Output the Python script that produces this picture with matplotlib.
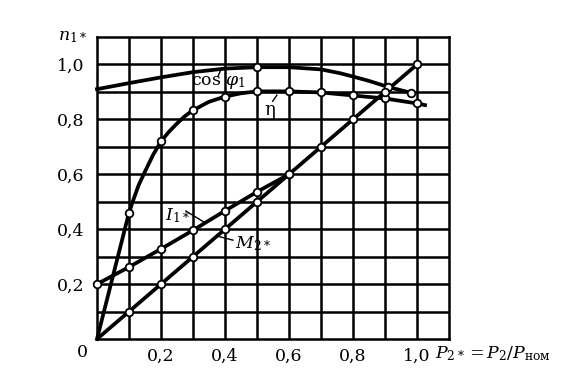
import matplotlib
matplotlib.use('Agg')
import matplotlib.pyplot as plt
import numpy as np

plt.rcParams['font.family'] = 'DejaVu Serif'
plt.rcParams['mathtext.fontset'] = 'dejavuserif'

# P2* on x
# cos phi1
cos_x = [0, 0.1, 0.2, 0.3, 0.4, 0.5, 0.6, 0.7, 0.76, 0.8, 0.85, 0.91, 0.98]
cos_y = [0.91, 0.932, 0.953, 0.972, 0.985, 0.99, 0.99, 0.982, 0.968, 0.956, 0.94, 0.918, 0.897]
cos_mx = [0.5, 0.91, 0.98]
cos_my = [0.99, 0.918, 0.897]

# efficiency
eta_x = [0, 0.05, 0.1, 0.11, 0.13, 0.15, 0.175, 0.2, 0.225, 0.25, 0.275, 0.3,
         0.35, 0.4, 0.45, 0.5, 0.6, 0.7, 0.8, 0.9, 1.0, 1.025]
eta_y = [0, 0.23, 0.46, 0.495, 0.56, 0.61, 0.67, 0.72, 0.755, 0.785, 0.812, 0.833,
         0.864, 0.883, 0.895, 0.902, 0.902, 0.898, 0.887, 0.876, 0.858, 0.852]
eta_mx = [0.1, 0.2, 0.3, 0.4, 0.5, 0.6, 0.7, 0.8, 0.9, 1.0]
eta_my = [0.46, 0.72, 0.833, 0.883, 0.902, 0.902, 0.898, 0.887, 0.876, 0.858]

# stator current
i1_x = [0, 0.1, 0.2, 0.3, 0.4, 0.5, 0.6]
i1_y = [0.2, 0.262, 0.328, 0.396, 0.467, 0.536, 0.6]

# torque
m2_x = [0, 0.1, 0.2, 0.3, 0.4, 0.5, 0.6, 0.7, 0.8, 0.9, 1.0]
m2_y = [0, 0.1, 0.2, 0.3, 0.4, 0.5, 0.6, 0.7, 0.8, 0.9, 1.0]

xlabels = ['0,2', '0,4', '0,6', '0,8', '1,0']
ylabels = ['0,2', '0,4', '0,6', '0,8', '1,0']

fig = plt.figure(figsize=(5.76, 3.77), dpi=100)
ax = fig.add_axes([97/576, 38/377, 352/576, 302/377])
ax.set_xlim(0, 1.1)
ax.set_ylim(0, 1.1)

ax.set_xticks([0.2, 0.4, 0.6, 0.8, 1.0])
ax.set_xticklabels(xlabels)
ax.set_yticks([0.2, 0.4, 0.6, 0.8, 1.0])
ax.set_yticklabels(ylabels)
ax.set_xticks(np.arange(0.1, 1.1, 0.1), minor=True)
ax.set_yticks(np.arange(0.1, 1.1, 0.1), minor=True)
ax.tick_params(which='both', length=0, labelsize=12.5)
ax.tick_params(axis='x', pad=6)
ax.tick_params(axis='y', pad=9)
ax.grid(which='both', color='black', lw=1.8)
ax.set_axisbelow(True)
for s in ax.spines.values():
    s.set_linewidth(1.8)

lw = 2.7
mk = dict(marker='o', ms=5.5, mfc='white', mec='black', mew=1.3, ls='none', zorder=5)
ax.plot(cos_x, cos_y, color='black', lw=lw, clip_on=False)
ax.plot(cos_mx, cos_my, **mk)
ax.plot(eta_x, eta_y, color='black', lw=lw, clip_on=False)
ax.plot(eta_mx, eta_my, **mk)
ax.plot(i1_x, i1_y, color='black', lw=lw)
ax.plot(i1_x, i1_y, clip_on=False, **mk)
ax.plot(m2_x, m2_y, color='black', lw=lw)
ax.plot(m2_x[1:], m2_y[1:], clip_on=False, **mk)

# curve labels with leaders
ax.text(0.378, 0.936, r'$\mathrm{cos}\ \varphi_1$', fontsize=12.5, ha='center', va='center')
ax.plot([0.378, 0.387], [0.957, 0.98], color='black', lw=1.0)
ax.text(0.54, 0.834, 'η', fontsize=13, ha='center', va='center')
ax.plot([0.549, 0.562], [0.866, 0.888], color='black', lw=1.0)
ax.text(0.253, 0.451, r'$I_{1*}$', fontsize=12.5, ha='center', va='center')
ax.plot([0.278, 0.334], [0.466, 0.426], color='black', lw=1.0)
ax.text(0.487, 0.349, r'$M_{2*}$', fontsize=12.5, ha='center', va='center')
ax.plot([0.425, 0.375], [0.36, 0.375], color='black', lw=1.0)

# axis captions
ax.text(-0.045, -0.05, '0', fontsize=12.5, ha='center', va='center')
ax.text(-0.03, 1.1, r'$n_{1*}$', fontsize=12.5, ha='right', va='center')
ax.text(1.055, -0.055, r'$P_{2*} = P_2/P_{\mathrm{ном}}$', fontsize=12.5, ha='left', va='center')

fig.savefig('out.png', dpi=100)
